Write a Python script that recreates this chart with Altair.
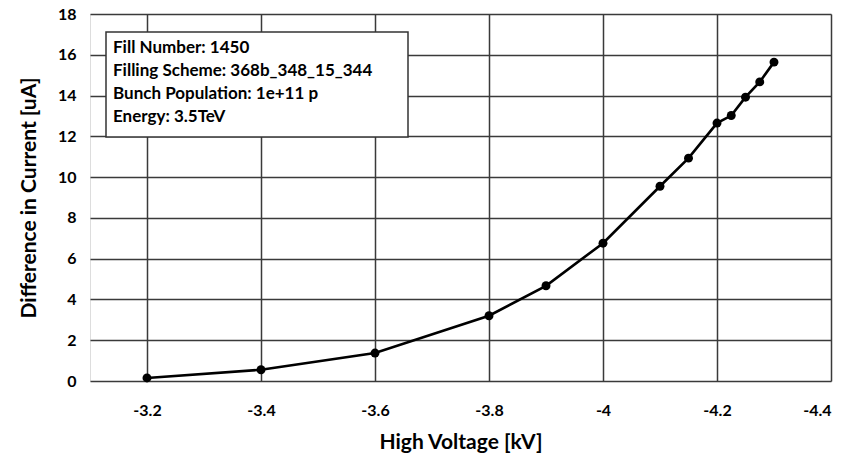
import altair as alt
import pandas as pd

voltage = [-3.2, -3.4, -3.6, -3.8, -3.9, -4.0, -4.1, -4.15, -4.2, -4.225, -4.25, -4.275, -4.3]
current = [0.15, 0.55, 1.37, 3.2, 4.67, 6.76, 9.55, 10.93, 12.65, 13.02, 13.92, 14.67, 15.64]

info_lines = [
    "Fill Number: 1450",
    "Filling Scheme: 368b_348_15_344",
    "Bunch Population: 1e+11 p",
    "Energy: 3.5TeV",
]

x_ticks = [-3.2, -3.4, -3.6, -3.8, -4.0, -4.2, -4.4]
y_ticks = [0, 2, 4, 6, 8, 10, 12, 14, 16, 18]

df = pd.DataFrame({"v": voltage, "c": current})
info = pd.DataFrame({"t": ["\n".join(info_lines)]})

FONT = "Lato"
W, H = 741, 367

xs = alt.Scale(domain=[-3.1, -4.4], nice=False, zero=False)
ys = alt.Scale(domain=[0, 18], nice=False)

base = alt.Chart(df)

line = base.mark_line(color="black", strokeWidth=2.6).encode(
    x=alt.X("v:Q", scale=xs,
            axis=alt.Axis(values=x_ticks, title="High Voltage [kV]",
                          labelExpr="replace(format(datum.value, '.1~f'), '\u2212', '-')",
                          grid=True, gridColor="#3a3a3a", gridWidth=1.5,
                          domain=False, ticks=False, labelPadding=21,
                          labelFont=FONT, labelFontSize=16, labelFontWeight="bold",
                          labelColor="black",
                          titleFont=FONT, titleFontSize=21, titleFontWeight="bold",
                          titleColor="black", titlePadding=13)),
    y=alt.Y("c:Q", scale=ys,
            axis=alt.Axis(values=y_ticks, title="Difference in Current [uA]",
                          grid=True, gridColor="#3a3a3a", gridWidth=1.5,
                          domain=False, ticks=False, labelPadding=14,
                          labelFont=FONT, labelFontSize=16, labelFontWeight="bold",
                          labelColor="black",
                          titleFont=FONT, titleFontSize=21, titleFontWeight="bold",
                          titleColor="black", titlePadding=18)),
)
points = base.mark_circle(color="black", size=80, opacity=1).encode(
    x=alt.X("v:Q", scale=xs), y=alt.Y("c:Q", scale=ys)
)

box = alt.Chart(info).mark_rect(
    fill="white", stroke="#333333", strokeWidth=1.5
).encode(
    x=alt.value(16), x2=alt.value(318), y=alt.value(18), y2=alt.value(123)
)

text = alt.Chart(info).mark_text(
    align="left", baseline="alphabetic", font=FONT, fontSize=17,
    fontWeight="bold", color="black", lineBreak="\n", lineHeight=23
).encode(
    x=alt.value(23),
    y=alt.value(39),
    text="t:N",
)

chart = alt.layer(line, points, box, text).properties(
    width=W, height=H,
    autosize=alt.AutoSizeParams(type="none"),
    padding={"left": 90, "top": 14, "right": 21, "bottom": 78},
).configure_view(stroke="#3a3a3a", strokeWidth=1.5).configure(background="white")

chart.save("out.html", embed_options={"renderer": "svg", "actions": False})
